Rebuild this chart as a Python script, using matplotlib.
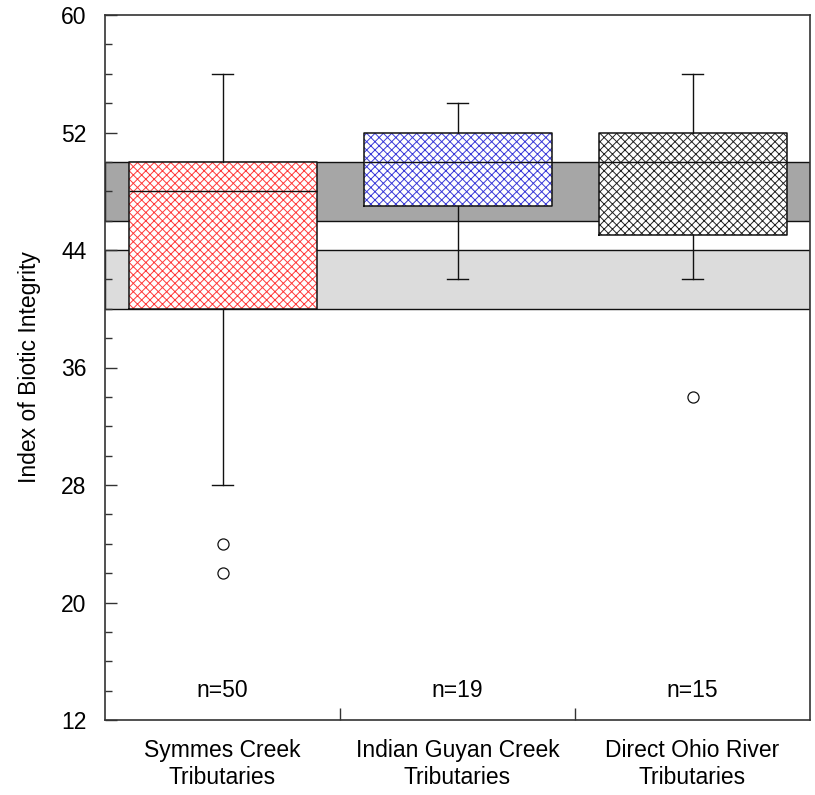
import matplotlib
matplotlib.use('Agg')
import matplotlib.pyplot as plt
from matplotlib.ticker import FixedLocator, MultipleLocator

categories = ['Symmes Creek\nTributaries', 'Indian Guyan Creek\nTributaries', 'Direct Ohio River\nTributaries']
n_counts = [50, 19, 15]
q1 = [40, 47, 45]
medians = [48, 50, 50]
q3 = [50, 52, 52]
whisker_low = [28, 42, 42]
whisker_high = [56, 54, 56]
outliers = [[24, 22], [], [34]]
hatch_colors = ['#ff3a3a', '#3a3ad8', '#222222']
dark_band = [46, 50]
light_band = [40, 44]
yticks = [12, 20, 28, 36, 44, 52, 60]

plt.rcParams['font.family'] = ['Liberation Sans', 'DejaVu Sans']
plt.rcParams['hatch.linewidth'] = 0.7
FS = 16.5

fig = plt.figure(figsize=(8.15, 7.95), dpi=100)
ax = fig.add_axes([105/815, 1-720/795, 705/815, 705/795])

positions = [i + 0.5 for i in range(len(categories))]
stats = []
for i in range(len(categories)):
    stats.append(dict(med=medians[i], q1=q1[i], q3=q3[i], whislo=whisker_low[i],
                      whishi=whisker_high[i], fliers=outliers[i], label=''))

# reference bands
ax.axhspan(dark_band[0], dark_band[1], facecolor='#a6a6a6', edgecolor='#111111', linewidth=1.0, zorder=0.5)
ax.axhspan(light_band[0], light_band[1], facecolor='#dcdcdc', edgecolor='#111111', linewidth=1.0, zorder=0.5)

# hatched fills
res = ax.bxp(stats, positions=positions, widths=0.8, patch_artist=True,
             showcaps=False, showfliers=False,
             whiskerprops=dict(linewidth=0), medianprops=dict(linewidth=0),
             boxprops=dict(linewidth=0), manage_ticks=False, zorder=2)
for patch, c in zip(res['boxes'], hatch_colors):
    patch.set_facecolor('white')
    patch.set_edgecolor(c)
    patch.set_hatch('xxxx')
    patch.set_linewidth(0)

# outlines, whiskers, caps, medians, fliers
ax.bxp(stats, positions=positions, widths=0.8, patch_artist=False,
       capwidths=0.09, manage_ticks=False,
       boxprops=dict(color='#111111', linewidth=1.1),
       whiskerprops=dict(color='#111111', linewidth=1.0),
       capprops=dict(color='#111111', linewidth=1.0),
       medianprops=dict(color='#111111', linewidth=1.0),
       flierprops=dict(marker='o', markerfacecolor='white', markeredgecolor='#111111',
                       markersize=8, markeredgewidth=0.9),
       zorder=3)

for p, n in zip(positions, n_counts):
    ax.text(p, 14, f'n={n}', ha='center', va='center', fontsize=FS)

ax.set_xlim(0, len(categories))
ax.set_ylim(12, 60)
ax.yaxis.set_major_locator(FixedLocator(yticks))
ax.yaxis.set_minor_locator(MultipleLocator(2))
ax.xaxis.set_major_locator(FixedLocator([1, 2]))
ax.xaxis.set_major_formatter(plt.NullFormatter())
ax.xaxis.set_minor_locator(FixedLocator(positions))
ax.set_xticklabels(categories, minor=True)

ax.tick_params(axis='y', which='major', direction='in', length=8.6, width=1.0, color='#333333',
               labelsize=FS, pad=13.5)
ax.tick_params(axis='y', which='minor', direction='in', length=5, width=1.0, color='#333333')
ax.tick_params(axis='x', which='major', direction='in', length=8.6, width=1.0, color='#333333')
ax.tick_params(axis='x', which='minor', length=0, labelsize=FS, pad=14)

for s in ax.spines.values():
    s.set_color('#333333')
    s.set_linewidth(1.2)

ax.set_ylabel('Index of Biotic Integrity', fontsize=FS, labelpad=14)

fig.savefig('out.png', dpi=100)
